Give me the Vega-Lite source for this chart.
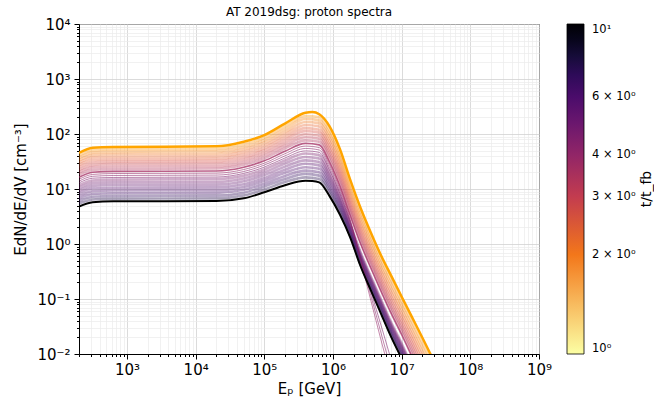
{
"$schema": "https://vega.github.io/schema/vega-lite/v6.json",
"width": 460, "height": 330,
"autosize": {"type": "none"},
"padding": {"left": 79, "top": 24, "right": 115, "bottom": 53},
"title": {"text": "AT 2019dsg: proton spectra", "fontSize": 12, "fontWeight": "normal", "color": "black", "offset": -2, "anchor": "middle"},
"config": {"font": "DejaVu Sans", "view": {"stroke": "black", "strokeWidth": 1}},
"datasets": {
"thin": [
{"t":1.72,"E":200,"y":40.8},{"t":1.72,"E":316,"y":50.7},{"t":1.72,"E":631,"y":52.5},{"t":1.72,"E":19950,"y":53.7},{"t":1.72,"E":50120,"y":65.2},{"t":1.72,"E":100000,"y":85.7},{"t":1.72,"E":199500,"y":138},{"t":1.72,"E":398100,"y":213},{"t":1.72,"E":631000,"y":201},{"t":1.72,"E":891300,"y":117},{"t":1.72,"E":1259000,"y":45.2},{"t":1.72,"E":1778000,"y":12.4},{"t":1.72,"E":2512000,"y":3.85},{"t":1.72,"E":3548000,"y":1.36},{"t":1.72,"E":5012000,"y":0.519},{"t":1.72,"E":7079000,"y":0.217},{"t":1.72,"E":10000000,"y":0.0912},{"t":1.72,"E":14130000,"y":0.0386},{"t":1.72,"E":19950000,"y":0.0163},{"t":1.72,"E":28180000,"y":0.0067},
{"t":1.87,"E":200,"y":36.9},{"t":1.87,"E":316,"y":45.8},{"t":1.87,"E":631,"y":47.4},{"t":1.87,"E":19950,"y":48.5},{"t":1.87,"E":50120,"y":58.5},{"t":1.87,"E":100000,"y":76.9},{"t":1.87,"E":199500,"y":123},{"t":1.87,"E":398100,"y":188},{"t":1.87,"E":631000,"y":177},{"t":1.87,"E":891300,"y":100},{"t":1.87,"E":1259000,"y":38.1},{"t":1.87,"E":1778000,"y":10.5},{"t":1.87,"E":2512000,"y":3.25},{"t":1.87,"E":3548000,"y":1.16},{"t":1.87,"E":5012000,"y":0.439},{"t":1.87,"E":7079000,"y":0.182},{"t":1.87,"E":10000000,"y":0.0764},{"t":1.87,"E":14130000,"y":0.0321},{"t":1.87,"E":19950000,"y":0.0133},{"t":1.87,"E":28180000,"y":0.0054},
{"t":2.03,"E":200,"y":33.3},{"t":2.03,"E":316,"y":41.3},{"t":2.03,"E":631,"y":42.8},{"t":2.03,"E":19950,"y":43.8},{"t":2.03,"E":50120,"y":52.6},{"t":2.03,"E":100000,"y":69.2},{"t":2.03,"E":199500,"y":109},{"t":2.03,"E":398100,"y":165},{"t":2.03,"E":631000,"y":156},{"t":2.03,"E":891300,"y":85.5},{"t":2.03,"E":1259000,"y":32.2},{"t":2.03,"E":1778000,"y":8.97},{"t":2.03,"E":2512000,"y":2.76},{"t":2.03,"E":3548000,"y":0.984},{"t":2.03,"E":5012000,"y":0.372},{"t":2.03,"E":7079000,"y":0.153},{"t":2.03,"E":10000000,"y":0.0643},{"t":2.03,"E":14130000,"y":0.0268},{"t":2.03,"E":19950000,"y":0.011},{"t":2.03,"E":28180000,"y":0.0044},
{"t":2.21,"E":200,"y":30.2},{"t":2.21,"E":316,"y":37.3},{"t":2.21,"E":631,"y":38.6},{"t":2.21,"E":19950,"y":39.4},{"t":2.21,"E":50120,"y":47.3},{"t":2.21,"E":100000,"y":62.1},{"t":2.21,"E":199500,"y":97.3},{"t":2.21,"E":398100,"y":146},{"t":2.21,"E":631000,"y":137},{"t":2.21,"E":891300,"y":73.1},{"t":2.21,"E":1259000,"y":27.4},{"t":2.21,"E":1778000,"y":7.66},{"t":2.21,"E":2512000,"y":2.36},{"t":2.21,"E":3548000,"y":0.839},{"t":2.21,"E":5012000,"y":0.318},{"t":2.21,"E":7079000,"y":0.129},{"t":2.21,"E":10000000,"y":0.0543},{"t":2.21,"E":14130000,"y":0.0225},{"t":2.21,"E":19950000,"y":0.0091},
{"t":2.4,"E":200,"y":27.3},{"t":2.4,"E":316,"y":33.7},{"t":2.4,"E":631,"y":34.8},{"t":2.4,"E":19950,"y":35.6},{"t":2.4,"E":50120,"y":42.5},{"t":2.4,"E":100000,"y":55.7},{"t":2.4,"E":199500,"y":86.7},{"t":2.4,"E":398100,"y":128},{"t":2.4,"E":631000,"y":120},{"t":2.4,"E":891300,"y":62.8},{"t":2.4,"E":1259000,"y":23.4},{"t":2.4,"E":1778000,"y":6.58},{"t":2.4,"E":2512000,"y":2.02},{"t":2.4,"E":3548000,"y":0.721},{"t":2.4,"E":5012000,"y":0.272},{"t":2.4,"E":7079000,"y":0.11},{"t":2.4,"E":10000000,"y":0.0462},{"t":2.4,"E":14130000,"y":0.019},{"t":2.4,"E":19950000,"y":0.0076},
{"t":2.61,"E":200,"y":24.7},{"t":2.61,"E":316,"y":30.4},{"t":2.61,"E":631,"y":31.5},{"t":2.61,"E":19950,"y":32.1},{"t":2.61,"E":50120,"y":38.2},{"t":2.61,"E":100000,"y":50.0},{"t":2.61,"E":199500,"y":77.3},{"t":2.61,"E":398100,"y":113},{"t":2.61,"E":631000,"y":106},{"t":2.61,"E":891300,"y":54.1},{"t":2.61,"E":1259000,"y":20.0},{"t":2.61,"E":1778000,"y":5.68},{"t":2.61,"E":2512000,"y":1.74},{"t":2.61,"E":3548000,"y":0.622},{"t":2.61,"E":5012000,"y":0.234},{"t":2.61,"E":7079000,"y":0.094},{"t":2.61,"E":10000000,"y":0.0394},{"t":2.61,"E":14130000,"y":0.0161},{"t":2.61,"E":19950000,"y":0.0064},
{"t":2.83,"E":200,"y":22.3},{"t":2.83,"E":316,"y":27.4},{"t":2.83,"E":631,"y":28.4},{"t":2.83,"E":19950,"y":29.0},{"t":2.83,"E":50120,"y":34.4},{"t":2.83,"E":100000,"y":44.9},{"t":2.83,"E":199500,"y":68.7},{"t":2.83,"E":398100,"y":99.1},{"t":2.83,"E":631000,"y":93.1},{"t":2.83,"E":891300,"y":46.7},{"t":2.83,"E":1259000,"y":17.3},{"t":2.83,"E":1778000,"y":4.93},{"t":2.83,"E":2512000,"y":1.51},{"t":2.83,"E":3548000,"y":0.541},{"t":2.83,"E":5012000,"y":0.204},{"t":2.83,"E":7079000,"y":0.0811},{"t":2.83,"E":10000000,"y":0.034},{"t":2.83,"E":14130000,"y":0.0138},{"t":2.83,"E":19950000,"y":0.0054},
{"t":3.08,"E":200,"y":20.1},{"t":3.08,"E":316,"y":24.8},{"t":3.08,"E":631,"y":25.6},{"t":3.08,"E":19950,"y":26.1},{"t":3.08,"E":50120,"y":30.8},{"t":3.08,"E":100000,"y":40.4},{"t":3.08,"E":199500,"y":61.2},{"t":3.08,"E":398100,"y":87.1},{"t":3.08,"E":631000,"y":82.0},{"t":3.08,"E":891300,"y":40.5},{"t":3.08,"E":1259000,"y":14.9},{"t":3.08,"E":1778000,"y":4.31},{"t":3.08,"E":2512000,"y":1.32},{"t":3.08,"E":3548000,"y":0.473},{"t":3.08,"E":5012000,"y":0.177},{"t":3.08,"E":7079000,"y":0.0702},{"t":3.08,"E":10000000,"y":0.0294},{"t":3.08,"E":14130000,"y":0.0118},{"t":3.08,"E":19950000,"y":0.0046},
{"t":3.34,"E":200,"y":18.2},{"t":3.34,"E":316,"y":22.3},{"t":3.34,"E":631,"y":23.1},{"t":3.34,"E":19950,"y":23.6},{"t":3.34,"E":50120,"y":27.7},{"t":3.34,"E":100000,"y":36.2},{"t":3.34,"E":199500,"y":54.5},{"t":3.34,"E":398100,"y":76.7},{"t":3.34,"E":631000,"y":72.1},{"t":3.34,"E":891300,"y":35.1},{"t":3.34,"E":1259000,"y":13.0},{"t":3.34,"E":1778000,"y":3.78},{"t":3.34,"E":2512000,"y":1.15},{"t":3.34,"E":3548000,"y":0.415},{"t":3.34,"E":5012000,"y":0.156},{"t":3.34,"E":7079000,"y":0.0611},{"t":3.34,"E":10000000,"y":0.0256},{"t":3.34,"E":14130000,"y":0.0102},{"t":3.34,"E":19950000,"y":0.0039},
{"t":4.6,"E":200,"y":11.7},{"t":4.6,"E":316,"y":14.3},{"t":4.6,"E":631,"y":14.8},{"t":4.6,"E":19950,"y":15.1},{"t":4.6,"E":50120,"y":17.5},{"t":4.6,"E":100000,"y":22.7},{"t":4.6,"E":199500,"y":33.0},{"t":4.6,"E":398100,"y":44.1},{"t":4.6,"E":631000,"y":41.3},{"t":4.6,"E":891300,"y":19.8},{"t":4.6,"E":1259000,"y":7.57},{"t":4.6,"E":1778000,"y":2.36},{"t":4.6,"E":2512000,"y":0.715},{"t":4.6,"E":3548000,"y":0.258},{"t":4.6,"E":5012000,"y":0.0965},{"t":4.6,"E":7079000,"y":0.0369},{"t":4.6,"E":10000000,"y":0.0155},{"t":4.6,"E":14130000,"y":0.006},
{"t":4.9,"E":200,"y":10.5},{"t":4.9,"E":316,"y":12.8},{"t":4.9,"E":631,"y":13.2},{"t":4.9,"E":19950,"y":13.4},{"t":4.9,"E":50120,"y":15.5},{"t":4.9,"E":100000,"y":20.1},{"t":4.9,"E":199500,"y":29.0},{"t":4.9,"E":398100,"y":38.2},{"t":4.9,"E":631000,"y":35.8},{"t":4.9,"E":891300,"y":17.5},{"t":4.9,"E":1259000,"y":6.85},{"t":4.9,"E":1778000,"y":2.19},{"t":4.9,"E":2512000,"y":0.665},{"t":4.9,"E":3548000,"y":0.24},{"t":4.9,"E":5012000,"y":0.0897},{"t":4.9,"E":7079000,"y":0.0342},{"t":4.9,"E":10000000,"y":0.0143},{"t":4.9,"E":14130000,"y":0.0056},
{"t":5.2,"E":200,"y":9.39},{"t":5.2,"E":316,"y":11.4},{"t":5.2,"E":631,"y":11.8},{"t":5.2,"E":19950,"y":12.0},{"t":5.2,"E":50120,"y":13.8},{"t":5.2,"E":100000,"y":17.9},{"t":5.2,"E":199500,"y":25.5},{"t":5.2,"E":398100,"y":33.2},{"t":5.2,"E":631000,"y":31.0},{"t":5.2,"E":891300,"y":15.5},{"t":5.2,"E":1259000,"y":6.21},{"t":5.2,"E":1778000,"y":2.04},{"t":5.2,"E":2512000,"y":0.618},{"t":5.2,"E":3548000,"y":0.223},{"t":5.2,"E":5012000,"y":0.0833},{"t":5.2,"E":7079000,"y":0.0317},{"t":5.2,"E":10000000,"y":0.0132},{"t":5.2,"E":14130000,"y":0.0051},
{"t":5.5,"E":200,"y":8.39},{"t":5.5,"E":316,"y":10.2},{"t":5.5,"E":631,"y":10.5},{"t":5.5,"E":19950,"y":10.7},{"t":5.5,"E":50120,"y":12.2},{"t":5.5,"E":100000,"y":15.8},{"t":5.5,"E":199500,"y":22.4},{"t":5.5,"E":398100,"y":28.8},{"t":5.5,"E":631000,"y":26.9},{"t":5.5,"E":891300,"y":13.7},{"t":5.5,"E":1259000,"y":5.62},{"t":5.5,"E":1778000,"y":1.89},{"t":5.5,"E":2512000,"y":0.574},{"t":5.5,"E":3548000,"y":0.208},{"t":5.5,"E":5012000,"y":0.0774},{"t":5.5,"E":7079000,"y":0.0293},{"t":5.5,"E":10000000,"y":0.0122},{"t":5.5,"E":14130000,"y":0.0047},
{"t":5.9,"E":200,"y":7.50},{"t":5.9,"E":316,"y":9.08},{"t":5.9,"E":631,"y":9.40},{"t":5.9,"E":19950,"y":9.53},{"t":5.9,"E":50120,"y":10.9},{"t":5.9,"E":100000,"y":14.1},{"t":5.9,"E":199500,"y":19.7},{"t":5.9,"E":398100,"y":24.9},{"t":5.9,"E":631000,"y":23.3},{"t":5.9,"E":891300,"y":12.1},{"t":5.9,"E":1259000,"y":5.09},{"t":5.9,"E":1778000,"y":1.76},{"t":5.9,"E":2512000,"y":0.534},{"t":5.9,"E":3548000,"y":0.193},{"t":5.9,"E":5012000,"y":0.072},{"t":5.9,"E":7079000,"y":0.0272},{"t":5.9,"E":10000000,"y":0.0113},{"t":5.9,"E":14130000,"y":0.0044},
{"t":6.3,"E":200,"y":6.70},{"t":6.3,"E":316,"y":8.10},{"t":6.3,"E":631,"y":8.39},{"t":6.3,"E":19950,"y":8.49},{"t":6.3,"E":50120,"y":9.65},{"t":6.3,"E":100000,"y":12.5},{"t":6.3,"E":199500,"y":17.3},{"t":6.3,"E":398100,"y":21.6},{"t":6.3,"E":631000,"y":20.2},{"t":6.3,"E":891300,"y":10.7},{"t":6.3,"E":1259000,"y":4.61},{"t":6.3,"E":1778000,"y":1.64},{"t":6.3,"E":2512000,"y":0.496},{"t":6.3,"E":3548000,"y":0.18},{"t":6.3,"E":5012000,"y":0.0669},{"t":6.3,"E":7079000,"y":0.0251},{"t":6.3,"E":10000000,"y":0.0105},{"t":6.3,"E":14130000,"y":0.004},
{"t":6.8,"E":200,"y":5.99},{"t":6.8,"E":316,"y":7.23},{"t":6.8,"E":631,"y":7.48},{"t":6.8,"E":19950,"y":7.58},{"t":6.8,"E":50120,"y":8.57},{"t":6.8,"E":100000,"y":11.1},{"t":6.8,"E":199500,"y":15.2},{"t":6.8,"E":398100,"y":18.8},{"t":6.8,"E":631000,"y":17.5},{"t":6.8,"E":891300,"y":9.48},{"t":6.8,"E":1259000,"y":4.18},{"t":6.8,"E":1778000,"y":1.52},{"t":6.8,"E":2512000,"y":0.461},{"t":6.8,"E":3548000,"y":0.167},{"t":6.8,"E":5012000,"y":0.0622},{"t":6.8,"E":7079000,"y":0.0233},{"t":6.8,"E":10000000,"y":0.0097},
{"t":7.4,"E":200,"y":5.36},{"t":7.4,"E":316,"y":6.45},{"t":7.4,"E":631,"y":6.68},{"t":7.4,"E":19950,"y":6.76},{"t":7.4,"E":50120,"y":7.61},{"t":7.4,"E":100000,"y":9.82},{"t":7.4,"E":199500,"y":13.4},{"t":7.4,"E":398100,"y":16.3},{"t":7.4,"E":631000,"y":15.2},{"t":7.4,"E":891300,"y":8.38},{"t":7.4,"E":1259000,"y":3.78},{"t":7.4,"E":1778000,"y":1.42},{"t":7.4,"E":2512000,"y":0.428},{"t":7.4,"E":3548000,"y":0.155},{"t":7.4,"E":5012000,"y":0.0578},{"t":7.4,"E":7079000,"y":0.0216},{"t":7.4,"E":10000000,"y":0.009}
],
"mag": [
{"t":3.63,"E":200,"y":16.4},{"t":3.63,"E":316,"y":20.2},{"t":3.63,"E":631,"y":20.9},{"t":3.63,"E":19950,"y":21.2},{"t":3.63,"E":50120,"y":24.9},{"t":3.63,"E":100000,"y":32.5},{"t":3.63,"E":199500,"y":48.5},{"t":3.63,"E":398100,"y":67.5},{"t":3.63,"E":631000,"y":63.4},{"t":3.63,"E":891300,"y":30.5},{"t":3.63,"E":1259000,"y":11.3},{"t":3.63,"E":1778000,"y":3.33},{"t":3.63,"E":2512000,"y":1.02},{"t":3.63,"E":3548000,"y":0.366},{"t":3.63,"E":5012000,"y":0.137},{"t":3.63,"E":7079000,"y":0.0535},{"t":3.63,"E":10000000,"y":0.0224},{"t":3.63,"E":14130000,"y":0.0089}
],
"steep": [
{"t":3.91,"E":200,"y":15.0},{"t":3.91,"E":316,"y":18.4},{"t":3.91,"E":631,"y":19.1},{"t":3.91,"E":19950,"y":19.4},{"t":3.91,"E":50120,"y":22.6},{"t":3.91,"E":100000,"y":29.5},{"t":3.91,"E":199500,"y":43.8},{"t":3.91,"E":398100,"y":60.3},{"t":3.91,"E":631000,"y":56.5},{"t":3.91,"E":891300,"y":27.0},{"t":3.91,"E":1259000,"y":10.0},{"t":3.91,"E":1778000,"y":2.82},{"t":3.91,"E":2512000,"y":0.525},{"t":3.91,"E":3548000,"y":0.0955},{"t":3.91,"E":5012000,"y":0.0178},{"t":3.91,"E":7079000,"y":0.00355},
{"t":4.17,"E":200,"y":13.9},{"t":4.17,"E":316,"y":17.0},{"t":4.17,"E":631,"y":17.6},{"t":4.17,"E":19950,"y":17.9},{"t":4.17,"E":50120,"y":20.8},{"t":4.17,"E":100000,"y":27.2},{"t":4.17,"E":199500,"y":40.0},{"t":4.17,"E":398100,"y":54.6},{"t":4.17,"E":631000,"y":51.2},{"t":4.17,"E":891300,"y":24.3},{"t":4.17,"E":1259000,"y":9.12},{"t":4.17,"E":1778000,"y":2.63},{"t":4.17,"E":2512000,"y":0.562},{"t":4.17,"E":3548000,"y":0.117},{"t":4.17,"E":5012000,"y":0.024},{"t":4.17,"E":7079000,"y":0.005},
{"t":4.45,"E":200,"y":12.9},{"t":4.45,"E":316,"y":15.7},{"t":4.45,"E":631,"y":16.2},{"t":4.45,"E":19950,"y":16.5},{"t":4.45,"E":50120,"y":19.2},{"t":4.45,"E":100000,"y":25.0},{"t":4.45,"E":199500,"y":36.6},{"t":4.45,"E":398100,"y":49.3},{"t":4.45,"E":631000,"y":46.3},{"t":4.45,"E":891300,"y":22.0},{"t":4.45,"E":1259000,"y":8.27},{"t":4.45,"E":1778000,"y":2.45},{"t":4.45,"E":2512000,"y":0.575},{"t":4.45,"E":3548000,"y":0.138},{"t":4.45,"E":5012000,"y":0.0331},{"t":4.45,"E":7079000,"y":0.0076}
],
"orange": [
{"E":200,"y":45.2},{"E":316,"y":56.2},{"E":631,"y":58.2},{"E":19950,"y":59.6},{"E":50120,"y":72.4},{"E":100000,"y":95.5},{"E":199500,"y":155},{"E":398100,"y":243},{"E":501200,"y":251},{"E":631000,"y":229},{"E":891300,"y":138},{"E":1259000,"y":53.7},{"E":1778000,"y":14.8},{"E":2512000,"y":4.57},{"E":3548000,"y":1.62},{"E":5012000,"y":0.617},{"E":7079000,"y":0.26},{"E":10000000,"y":0.11},{"E":14130000,"y":0.0468},{"E":19950000,"y":0.02},{"E":28180000,"y":0.00832}
],
"black": [
{"E":200,"y":4.79},{"E":316,"y":5.75},{"E":631,"y":5.96},{"E":19950,"y":6.03},{"E":50120,"y":6.76},{"E":100000,"y":8.71},{"E":199500,"y":11.7},{"E":398100,"y":14.1},{"E":501200,"y":14.0},{"E":631000,"y":13.2},{"E":891300,"y":7.41},{"E":1259000,"y":3.43},{"E":1778000,"y":1.32},{"E":2512000,"y":0.398},{"E":3548000,"y":0.145},{"E":5012000,"y":0.0537},{"E":7079000,"y":0.02},{"E":10000000,"y":0.00832}
]
},
"resolve": {"axis": {"x": "independent", "y": "independent"}},
"layer": [
{
"data": {"name": "thin"},
"mark": {"type": "line", "strokeWidth": 2.6, "strokeOpacity": 0.36, "interpolate": "monotone", "clip": true},
"encoding": {
"x": {"field": "E", "type": "quantitative", "scale": {"type": "log", "domain": [200, 1000000000], "nice": false},
"axis": {"orient": "bottom", "values": [200,300,400,500,600,700,800,900,2000,3000,4000,5000,6000,7000,8000,9000,20000,30000,40000,50000,60000,70000,80000,90000,200000,300000,400000,500000,600000,700000,800000,900000,2000000,3000000,4000000,5000000,6000000,7000000,8000000,9000000,20000000,30000000,40000000,50000000,60000000,70000000,80000000,90000000,200000000,300000000,400000000,500000000,600000000,700000000,800000000,900000000], "labels": false, "title": null, "domain": false, "tickSize": 2.5, "tickColor": "black", "grid": true, "gridColor": "#ebebeb", "gridWidth": 0.7}},
"y": {"field": "y", "type": "quantitative", "scale": {"type": "log", "domain": [0.01, 10000], "nice": false},
"axis": {"orient": "left", "values": [0.02,0.03,0.04,0.05,0.06,0.07,0.08,0.09,0.2,0.3,0.4,0.5,0.6,0.7,0.8,0.9,2,3,4,5,6,7,8,9,20,30,40,50,60,70,80,90,200,300,400,500,600,700,800,900,2000,3000,4000,5000,6000,7000,8000,9000], "labels": false, "title": null, "domain": false, "tickSize": 2.5, "tickColor": "black", "grid": true, "gridColor": "#ebebeb", "gridWidth": 0.7}},
"color": {"field": "t", "type": "quantitative", "scale": {"type": "log", "domain": [1, 10], "scheme": "inferno", "reverse": true},
"legend": {"orient": "none", "legendX": 488, "legendY": 0, "direction": "vertical", "gradientLength": 330, "gradientThickness": 17, "values": [1,2,3,4,6,10], "labelExpr": "datum.value == 1 ? '10⁰' : datum.value == 10 ? '10¹' : datum.value + ' × 10⁰'", "labelFontSize": 11.5, "labelColor": "black", "labelOffset": 8, "title": "t/t_fb", "titleOrient": "right", "titleAnchor": "middle", "titleFontSize": 14, "titleFontWeight": "normal", "titleColor": "black", "titlePadding": 3, "gradientStrokeColor": "black", "gradientStrokeWidth": 0.8, "padding": 0,
"encode": {"gradient": {"update": {"opacity": {"value": 1}, "fillOpacity": {"value": 1}}}, "title": {"update": {"angle": {"value": 270}, "dy": {"value": 15}}}}}},
"detail": {"field": "t", "type": "nominal"}
}
},
{
"data": {"name": "mag"},
"mark": {"type": "line", "strokeWidth": 1.6, "strokeOpacity": 0.75, "interpolate": "monotone", "clip": true},
"encoding": {
"x": {"field": "E", "type": "quantitative", "scale": {"type": "log", "domain": [200, 1000000000], "nice": false}, "axis": null},
"y": {"field": "y", "type": "quantitative", "scale": {"type": "log", "domain": [0.01, 10000], "nice": false}, "axis": null},
"color": {"field": "t", "type": "quantitative"},
"detail": {"field": "t", "type": "nominal"}
}
},
{
"data": {"name": "steep"},
"mark": {"type": "line", "strokeWidth": 1, "strokeOpacity": 0.55, "interpolate": "monotone", "clip": true},
"encoding": {
"x": {"field": "E", "type": "quantitative", "scale": {"type": "log", "domain": [200, 1000000000], "nice": false}, "axis": null},
"y": {"field": "y", "type": "quantitative", "scale": {"type": "log", "domain": [0.01, 10000], "nice": false}, "axis": null},
"color": {"field": "t", "type": "quantitative"},
"detail": {"field": "t", "type": "nominal"}
}
},
{
"data": {"name": "black"},
"mark": {"type": "line", "strokeWidth": 2, "color": "black", "interpolate": "monotone", "clip": true},
"encoding": {
"x": {"field": "E", "type": "quantitative", "scale": {"type": "log", "domain": [200, 1000000000], "nice": false}, "axis": null},
"y": {"field": "y", "type": "quantitative", "scale": {"type": "log", "domain": [0.01, 10000], "nice": false}, "axis": null}
}
},
{
"data": {"name": "orange"},
"mark": {"type": "line", "strokeWidth": 2.5, "color": "#ffa500", "interpolate": "monotone", "clip": true},
"encoding": {
"x": {"field": "E", "type": "quantitative", "scale": {"type": "log", "domain": [200, 1000000000], "nice": false},
"axis": {"orient": "bottom", "values": [1000,10000,100000,1000000,10000000,100000000,1000000000], "labelExpr": "'10' + ['⁰','¹','²','³','⁴','⁵','⁶','⁷','⁸','⁹'][round(log(datum.value)/LN10)]", "labelFontSize": 15, "labelColor": "black", "labelFlush": false, "labelOverlap": false, "labelPadding": 3, "tickSize": 5, "tickColor": "black", "domainColor": "black", "grid": true, "gridColor": "#d2d2d2", "gridWidth": 0.8, "title": "Eₚ [GeV]", "titleFontSize": 15, "titleFontWeight": "normal", "titleColor": "black", "titlePadding": 4}},
"y": {"field": "y", "type": "quantitative", "scale": {"type": "log", "domain": [0.01, 10000], "nice": false},
"axis": {"orient": "left", "values": [0.01,0.1,1,10,100,1000,10000], "labelExpr": "'10' + ['⁻²','⁻¹','⁰','¹','²','³','⁴'][round(log(datum.value)/LN10) + 2]", "labelFontSize": 15, "labelColor": "black", "labelFlush": false, "labelOverlap": false, "labelPadding": 4, "tickSize": 5, "tickColor": "black", "domainColor": "black", "grid": true, "gridColor": "#d2d2d2", "gridWidth": 0.8, "title": "EdN/dE/dV [cm⁻³]", "titleFontSize": 15, "titleFontWeight": "normal", "titleColor": "black", "titlePadding": 8}}
}
}
]
}
